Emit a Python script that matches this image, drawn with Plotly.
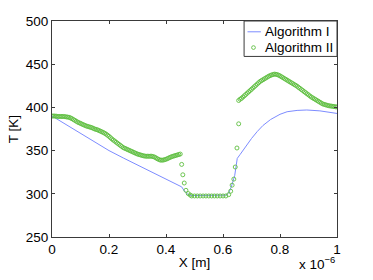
import plotly.graph_objects as go

SCALE = 1e-6  # x axis unit factor (m)

# ---------------- data ----------------
# Algorithm I (line), x in units of 1e-6 m, T in K
alg1_x = [0.0, 0.05, 0.10, 0.15, 0.20, 0.25, 0.30, 0.35, 0.40, 0.455, 0.465, 0.478,
          0.49, 0.60, 0.612, 0.62, 0.629, 0.641, 0.650, 0.66, 0.68, 0.70, 0.72, 0.74,
          0.767, 0.80, 0.825, 0.86, 0.894, 0.94, 1.0]
alg1_t = [390, 380, 369, 359, 350, 341.5, 333.3, 325, 317, 308, 303, 299,
          298, 298, 298.5, 301, 308, 321, 341, 345.5, 355, 364, 372, 379,
          386, 392, 395, 396.5, 397, 396, 393]

# Algorithm II (markers) - left branch, sampled every 0.005 from 0 to 0.45
alg2_left_x = [round(i * 0.005, 3) for i in range(91)]
alg2_left_t = [390, 390, 390, 389.8, 389.5, 389.5, 389.5, 389.5, 389.5, 389.3,
               389, 388.8, 388.5, 387.8, 387, 386, 385, 384, 383, 382.2,
               381.5, 380.7, 380, 379.2, 378.5, 378, 377.5, 377, 376.5, 375.7,
               375, 374.5, 374, 373.2, 372.5, 371.7, 371, 370, 369, 367.8,
               366.5, 365, 363.5, 362.2, 361, 359.7, 358.5, 357.2, 356, 354.7,
               353.5, 352.7, 352, 351.2, 350.5, 349.7, 349, 348.2, 347.5, 346.7,
               346, 345.5, 345, 344.5, 344, 343.7, 343.5, 343.5, 343.5, 343.5,
               343.5, 343, 342.5, 341.5, 340.5, 339.7, 339, 339, 339, 339.5,
               340, 340.7, 341.5, 342.2, 343, 343.5, 344, 344.5, 345, 345.5,
               346]

# Algorithm II - transition / well region
alg2_mid_x = [0.455, 0.459, 0.464, 0.470, 0.478, 0.485,
              0.49, 0.50, 0.51, 0.52, 0.53, 0.54, 0.55, 0.56, 0.57, 0.58, 0.59, 0.60, 0.61,
              0.62, 0.627, 0.632, 0.638, 0.643, 0.649, 0.655]
alg2_mid_t = [334, 322, 312.5, 304, 300.3, 298.5,
              297.5, 297.5, 297.5, 297.5, 297.5, 297.5, 297.5, 297.5, 297.5, 297.5, 297.5, 297.5, 297.5,
              299, 303, 310, 317, 331, 353, 381]

# Algorithm II - right branch, sampled every 0.005 from 0.655 to 1.0
alg2_right_x = [round(0.655 + i * 0.005, 3) for i in range(70)]
alg2_right_t = [408, 409.5, 410.5, 412, 413.5, 415, 416.5, 418, 419.5, 421,
                422.5, 424, 425.5, 427, 428.5, 430, 431, 432, 433, 434,
                435, 436, 436.8, 437.5, 438, 438.5, 438.3, 438, 437.3, 436.5,
                435.5, 434.5, 433.5, 432.5, 431.5, 430.5, 429.5, 428.5, 427.5, 426.5,
                425.5, 424.5, 423.2, 422, 420.7, 419.5, 418.2, 417, 415.7, 414.5,
                413.2, 412, 411, 410, 409, 408, 407, 406, 405, 404,
                403.5, 403, 402.5, 402, 401.7, 401.5, 401.2, 401, 400.7, 400.5]

x_tick_vals = [0, 0.2, 0.4, 0.6, 0.8, 1.0]
x_tick_text = ["0", "0.2", "0.4", "0.6", "0.8", "1"]
y_tick_vals = [250, 300, 350, 400, 450, 500]
series_names = ["Algorithm I", "Algorithm II"]

# ---------------- style ----------------
FONT = "Liberation Sans, Arial, sans-serif"
FS = 13.5
BLUE = "rgb(125,140,255)"
GREEN = "rgb(95,190,65)"
AX = "#3a3a3a"

alg2_x = alg2_left_x + alg2_mid_x + alg2_right_x
alg2_t = alg2_left_t + alg2_mid_t + alg2_right_t

fig = go.Figure()
fig.add_trace(go.Scatter(
    x=[v * SCALE for v in alg1_x], y=alg1_t, mode="lines", name=series_names[0],
    line=dict(color=BLUE, width=1), showlegend=False))
fig.add_trace(go.Scatter(
    x=[v * SCALE for v in alg2_x], y=alg2_t, mode="markers", name=series_names[1],
    marker=dict(symbol="circle-open", size=4, color=GREEN,
                line=dict(width=0.9, color=GREEN)), showlegend=False))

axis_common = dict(showgrid=False, zeroline=False, showline=True, linecolor=AX,
                   linewidth=1, mirror="allticks", ticks="inside", ticklen=3,
                   tickcolor=AX, tickfont=dict(family=FONT, size=FS, color="black"))

fig.update_layout(
    width=373, height=280,
    margin=dict(l=49, r=36, t=21, b=39),
    paper_bgcolor="white", plot_bgcolor="white",
    font=dict(family=FONT, size=FS, color="black"),
    showlegend=False,
    xaxis=dict(range=[0, 1.0 * SCALE],
               tickvals=[v * SCALE for v in x_tick_vals], ticktext=x_tick_text,
               title=dict(text="X [m]", standoff=1, font=dict(family=FONT, size=FS)),
               **axis_common),
    yaxis=dict(range=[250, 500], tickvals=y_tick_vals,
               title=dict(text="T [K]", standoff=4, font=dict(family=FONT, size=FS)),
               **axis_common),
)

# exponent label below the x axis
fig.add_annotation(x=1, y=-39 / 220, xref="paper", yref="paper", xanchor="right",
                   yanchor="bottom", yshift=1, text="x 10<sup>\u22126</sup>",
                   showarrow=False, font=dict(family=FONT, size=FS, color="black"))

# legend box (MATLAB style, top-right inside axes)
fig.add_shape(type="rect", xref="paper", yref="paper", x0=0.674, x1=1.0, y0=0.836, y1=1.0,
              line=dict(color=AX, width=1), fillcolor="white", layer="above")
fig.add_shape(type="line", xref="paper", yref="paper", x0=0.686, x1=0.733, y0=0.95, y1=0.95,
              line=dict(color=BLUE, width=1), layer="above")
fig.add_shape(type="circle", xref="paper", yref="paper", x0=0.707 - 0.0066, x1=0.707 + 0.0066,
              y0=0.877 - 0.0086, y1=0.877 + 0.0086, line=dict(color=GREEN, width=0.9),
              layer="above")
for name, yy in zip(series_names, [0.95, 0.877]):
    fig.add_annotation(x=0.742, y=yy, xref="paper", yref="paper", xanchor="left",
                       yanchor="middle", text=name, showarrow=False,
                       font=dict(family=FONT, size=FS, color="black"))

fig.write_html("out.html", config={"displayModeBar": False},
               post_script="document.body.style.margin='0';")
